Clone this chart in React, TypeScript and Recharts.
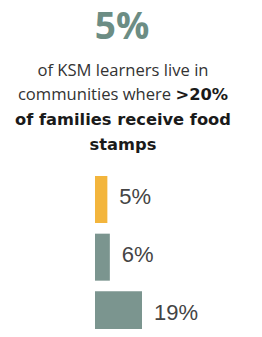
import React from 'react';
import { BarChart, Bar, XAxis, YAxis, Cell, LabelList } from 'recharts';

const groups = ['KSM learners', 'Comparison A', 'Comparison B'];
const shares = [5, 6, 19];
const barColors = ['#f3b53c', '#7b958f', '#7b958f'];

const data = groups.map((name, i) => ({ name, value: shares[i] }));

const boldStyle: React.CSSProperties = { color: '#1a1a1a', fontFamily: '"DejaVu Sans", sans-serif', fontSize: 16.3, lineHeight: '24px' };

const App: React.FC = () => {
  return (
    <div style={{ position: 'relative', width: 262, height: 337, margin: -8, overflow: 'hidden', background: '#fff', fontFamily: '"Open Sans", Arial, sans-serif' }}>
      <div style={{ position: 'absolute', top: 2, left: 0, width: 244, textAlign: 'center', fontSize: 37, fontWeight: 700, color: '#6c8d84', lineHeight: '46px' }}>
        5%
      </div>
      <div style={{ position: 'absolute', top: 58, left: 0, width: 246, textAlign: 'center', fontSize: 16.6, color: '#333', lineHeight: '24px', whiteSpace: 'nowrap' }}>
        of KSM learners live in<br />
        communities where <b style={boldStyle}>&gt;20%</b><br />
        <b style={boldStyle}>of families receive food</b><br />
        <b style={boldStyle}>stamps</b>
      </div>
      <div style={{ position: 'absolute', top: 171, left: 0 }}>
        <BarChart width={262} height={173} data={data} layout="vertical" margin={{ top: 0, right: 120, bottom: 0, left: 95 }}>
          <XAxis type="number" domain={[0, 19]} hide />
          <YAxis type="category" dataKey="name" hide />
          <Bar dataKey="value" barSize={47} isAnimationActive={false}>
            {data.map((d, i) => (
              <Cell key={d.name} fill={barColors[i]} />
            ))}
            <LabelList dataKey="value" position="right" offset={12} formatter={(v: number) => `${v}%`} fill="#444" fontSize={22} fontFamily="Arial, sans-serif" dy={-3} />
          </Bar>
        </BarChart>
      </div>
    </div>
  );
};

export default App;
